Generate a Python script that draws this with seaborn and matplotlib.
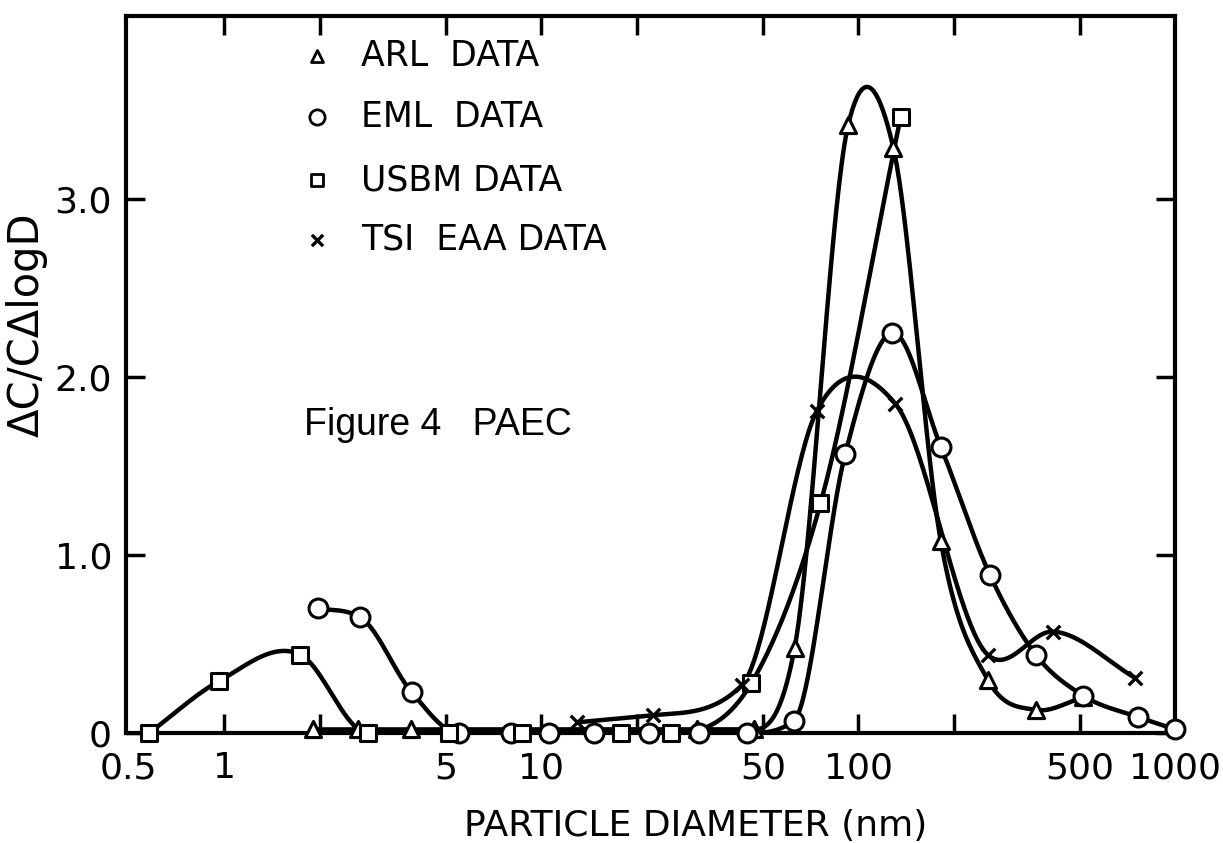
import numpy as np
import pandas as pd
import matplotlib
matplotlib.use("Agg")
import matplotlib.pyplot as plt
import seaborn as sns

# ---------------- data ----------------
arl_d = [1.9, 2.64, 3.87, 31, 47, 63, 93, 129, 182, 256, 363, 512]
arl_v = [0.02, 0.02, 0.02, 0.02, 0.02, 0.48, 3.42, 3.29, 1.08, 0.30, 0.13, 0.20]

eml_d = [1.97, 2.69, 3.9, 5.5, 8.0, 10.6, 14.7, 21.8, 31.4, 44.6, 62.7, 91, 128,
         182, 260, 363, 512, 763, 1000]
eml_v = [0.70, 0.65, 0.23, 0, 0, 0, 0, 0, 0, 0, 0.07, 1.57, 2.25,
         1.61, 0.89, 0.44, 0.21, 0.09, 0.02]

usbm_d = [0.58, 0.96, 1.74, 2.84, 5.1, 8.7, 17.8, 25.7, 46, 76, 136]
usbm_v = [0, 0.29, 0.44, 0, 0, 0, 0, 0, 0.28, 1.29, 3.46]

tsi_d = [13, 22.6, 43, 74, 131, 256, 411, 747]
tsi_v = [0.06, 0.10, 0.27, 1.81, 1.85, 0.44, 0.57, 0.31]

series_names = ["ARL  DATA", "EML  DATA", "USBM DATA", "TSI  EAA DATA"]

x_tick_vals = [1, 2, 5, 10, 20, 50, 100, 200, 500]
x_tick_labels = ["1", "", "5", "10", "", "50", "100", "", "500"]
x_edge_vals = [0.5, 1000]
x_edge_labels = ["0.5", "1000"]
y_tick_vals = [0, 1, 2, 3]
y_tick_labels = ["0", "1.0", "2.0", "3.0"]


def smooth_curve(xs, ys, n=40):
    """Shape-preserving cubic Hermite curve in log10(x) for drawing the line."""
    lx = np.log10(np.asarray(xs, float))
    y = np.asarray(ys, float)
    h = np.diff(lx)
    d = np.diff(y) / h
    m = np.zeros_like(y)
    m[0], m[-1] = d[0], d[-1]
    if len(y) > 2:
        m[1:-1] = (h[1:] * d[:-1] + h[:-1] * d[1:]) / (h[:-1] + h[1:])
    for k in range(len(h)):
        if abs(d[k]) < 1e-12:
            m[k] = 0.0
            m[k + 1] = 0.0
        else:
            a, b = m[k] / d[k], m[k + 1] / d[k]
            if a >= 0 and b >= 0 and a * a + b * b > 9:
                t = 3.0 / np.sqrt(a * a + b * b)
                m[k] = t * a * d[k]
                m[k + 1] = t * b * d[k]
    out_x, out_y = [], []
    for k in range(len(h)):
        t = np.linspace(0, 1, n, endpoint=(k == len(h) - 1))
        h00 = 2 * t**3 - 3 * t**2 + 1
        h10 = t**3 - 2 * t**2 + t
        h01 = -2 * t**3 + 3 * t**2
        h11 = t**3 - t**2
        yy = h00 * y[k] + h10 * h[k] * m[k] + h01 * y[k + 1] + h11 * h[k] * m[k + 1]
        out_x.append(10 ** (lx[k] + t * h[k]))
        out_y.append(yy)
    return np.concatenate(out_x), np.concatenate(out_y)


sns.set_style("ticks")
plt.rcParams["font.family"] = ["DejaVu Sans"]
for key in ["text.color", "axes.labelcolor", "xtick.color", "ytick.color",
            "axes.edgecolor"]:
    plt.rcParams[key] = "black"

fig = plt.figure(figsize=(12.23, 8.43), dpi=100)
ax = fig.add_axes([0.103, 0.1305, 0.858, 0.8505])

series = [
    (arl_d, arl_v, "^", 135),
    (eml_d, eml_v, "o", 185),
    (usbm_d, usbm_v, "s", 120),
    (tsi_d, tsi_v, "x", 95),
]

for xs, ys, mk, sz in series:
    cx, cy = smooth_curve(xs, ys)
    sns.lineplot(x=cx, y=cy, ax=ax, color="black", linewidth=3.2,
                 sort=False, estimator=None, zorder=2)

for xs, ys, mk, sz in series:
    if mk == "x":
        sns.scatterplot(x=xs, y=ys, ax=ax, marker="x", s=sz, color="black",
                        linewidth=2.4, zorder=4, clip_on=False)
    else:
        sns.scatterplot(x=xs, y=ys, ax=ax, marker=mk, s=sz, color="white",
                        edgecolor="black", linewidth=2.2, zorder=3, clip_on=False)

ax.set_xscale("log")
ax.set_xlim(0.49, 1000)
ax.set_ylim(0, 4.03)

ax.set_xticks(x_tick_vals)
ax.set_xticklabels(x_tick_labels)
ax.set_xticks(x_edge_vals, minor=True)
ax.set_xticklabels(x_edge_labels, minor=True)
ax.set_yticks(y_tick_vals)
ax.set_yticklabels(y_tick_labels)

ax.tick_params(which="major", direction="in", top=True, right=True,
               length=14, width=2.5, labelsize=26, pad=13, color="black")
ax.tick_params(which="minor", direction="in", length=0, labelsize=26, pad=13,
               top=False, right=False)
ax.tick_params(axis="y", which="major", pad=10)

for sp in ax.spines.values():
    sp.set_linewidth(3)
    sp.set_color("black")

ax.set_xlabel("PARTICLE DIAMETER (nm)", fontsize=26)
ax.xaxis.set_label_coords(0.543, -0.106)
ax.set_ylabel("ΔC/CΔlogD", fontsize=30)
ax.yaxis.set_label_coords(-0.075, 0.57)

# legend drawn as markers + text
leg_y = [0.944, 0.859, 0.771, 0.688]
leg_mk = [("^", 75, "white"), ("o", 120, "white"), ("s", 75, "white"), ("x", 65, "black")]
for yy, name, (mk, sz, fc) in zip(leg_y, series_names, leg_mk):
    if mk == "x":
        ax.scatter([0.182], [yy], marker=mk, s=sz, color="black", linewidths=2.4,
                   transform=ax.transAxes, clip_on=False, zorder=5)
    else:
        ax.scatter([0.182], [yy], marker=mk, s=sz, facecolor=fc, edgecolor="black",
                   linewidths=2.0, transform=ax.transAxes, clip_on=False, zorder=5)
    ax.text(0.224, yy, name, transform=ax.transAxes, fontsize=25,
            va="center", ha="left")

ax.text(0.170, 0.43, "Figure 4   PAEC", transform=ax.transAxes, fontsize=27,
        va="center", ha="left", family=["Liberation Sans", "DejaVu Sans"])

fig.savefig("out.png", dpi=100)
